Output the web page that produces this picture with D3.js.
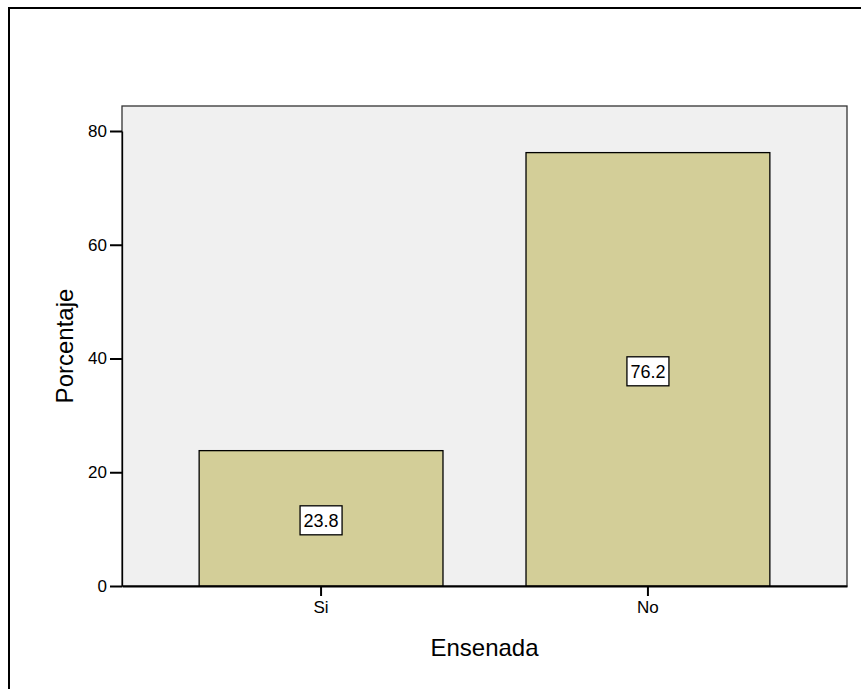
<!DOCTYPE html>
<html>
<head>
<meta charset="utf-8">
<script src="https://cdn.jsdelivr.net/npm/d3@7"></script>
<style>
  html, body { margin: 0; padding: 0; background: #fff; }
  svg { display: block; font-family: Arial, "Liberation Sans", Helvetica, sans-serif; }
</style>
</head>
<body>
<svg id="chart" width="861" height="689"></svg>
<script>
const categories = ["Si", "No"];
const values = [23.8, 76.2];
const yTicks = [0, 20, 40, 60, 80];
const xTitle = "Ensenada";
const yTitle = "Porcentaje";

const W = 861, H = 689;
const plot = { left: 122, right: 847, top: 106, bottom: 586 };
const FONT = "Arial, 'Liberation Sans', sans-serif";

const svg = d3.select("#chart");

// outer frame
svg.append("rect")
  .attr("x", 9).attr("y", 8)
  .attr("width", 900).attr("height", 800)
  .attr("fill", "none").attr("stroke", "#000").attr("stroke-width", 2);

const x = d3.scaleBand()
  .domain(categories)
  .range([plot.left, plot.right])
  .paddingInner(0.254)
  .paddingOuter(0.236);

const y = d3.scaleLinear()
  .domain([0, 80])
  .range([plot.bottom, plot.bottom - 455]);

// plot background
svg.append("rect")
  .attr("x", plot.left).attr("y", plot.top)
  .attr("width", plot.right - plot.left).attr("height", plot.bottom - plot.top)
  .attr("fill", "#f0f0f0").attr("stroke", "#333").attr("stroke-width", 1.3);

// bars
svg.selectAll("rect.bar")
  .data(values)
  .enter().append("rect")
  .attr("class", "bar")
  .attr("x", (d, i) => x(categories[i]))
  .attr("y", d => y(d))
  .attr("width", x.bandwidth())
  .attr("height", d => y(0) - y(d))
  .attr("fill", "#d3ce98")
  .attr("stroke", "#000").attr("stroke-width", 1.3);

// value labels
const lab = svg.selectAll("g.lab")
  .data(values)
  .enter().append("g")
  .attr("class", "lab")
  .attr("transform", (d, i) => `translate(${x(categories[i]) + x.bandwidth() / 2},${(y(d) + y(0)) / 2 + 2})`);
lab.append("rect")
  .attr("x", -21).attr("y", -14.5)
  .attr("width", 42).attr("height", 29)
  .attr("fill", "#fff").attr("stroke", "#000").attr("stroke-width", 1.3);
lab.append("text")
  .attr("text-anchor", "middle")
  .attr("dy", "0.36em")
  .attr("font-size", 18)
  .attr("font-family", FONT)
  .attr("fill", "#000")
  .text(d => d.toFixed(1));

// y axis
const yAxis = d3.axisLeft(y).tickValues(yTicks).tickSize(12).tickSizeOuter(0).tickPadding(3).tickFormat(d3.format("d"));
const gy = svg.append("g").attr("transform", `translate(${plot.left},0)`).call(yAxis);
gy.attr("font-size", 17).attr("font-family", FONT);
gy.select(".domain").attr("stroke", "#000").attr("stroke-width", 1.3);
gy.selectAll(".tick line").attr("stroke", "#000").attr("stroke-width", 2);
gy.selectAll(".tick text").attr("fill", "#000");

// x axis
const xAxis = d3.axisBottom(x).tickSize(10).tickSizeOuter(0).tickPadding(5);
const gx = svg.append("g").attr("transform", `translate(0,${plot.bottom})`).call(xAxis);
gx.attr("font-size", 17).attr("font-family", FONT);
gx.select(".domain").attr("stroke", "#000").attr("stroke-width", 2.2);
gx.selectAll(".tick line").attr("stroke", "#000").attr("stroke-width", 2);
gx.selectAll(".tick text").attr("fill", "#000");

// axis titles
svg.append("text")
  .attr("x", (plot.left + plot.right) / 2)
  .attr("y", 656)
  .attr("text-anchor", "middle")
  .attr("font-size", 24)
  .attr("font-family", FONT)
  .attr("fill", "#000")
  .text(xTitle);

svg.append("text")
  .attr("transform", `translate(73,${(plot.top + plot.bottom) / 2}) rotate(-90)`)
  .attr("text-anchor", "middle")
  .attr("font-size", 24)
  .attr("font-family", FONT)
  .attr("fill", "#000")
  .text(yTitle);
</script>
</body>
</html>
